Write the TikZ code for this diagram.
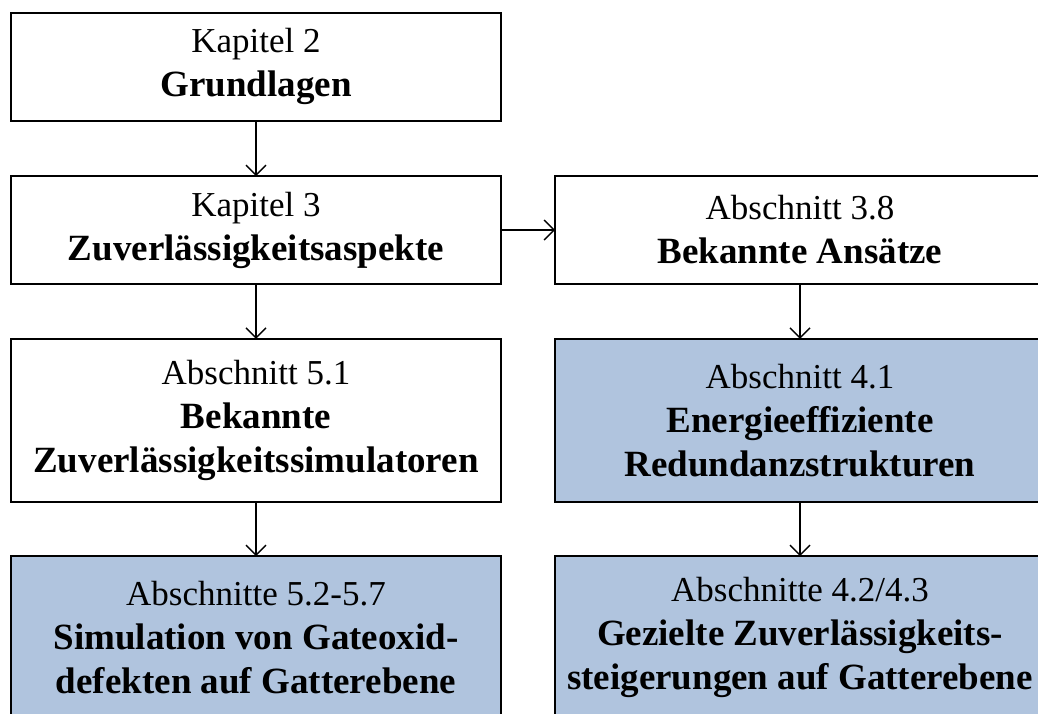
\documentclass[tikz,border=0pt]{standalone}
\usepackage{fontspec}
\setmainfont{Liberation Serif}
\usetikzlibrary{arrows.meta}
\definecolor{boxblue}{RGB}{176,196,222}
\newcommand{\reg}[1]{{\fontsize{35}{44}\selectfont #1}}
\newcommand{\bld}[1]{{\fontsize{37}{44}\selectfont\bfseries #1}}
\tikzset{
  chapbox/.style={draw=black, line width=2pt, rectangle, minimum width=490pt, outer sep=0pt, inner sep=0pt, align=center, font=\fontsize{36}{44}\selectfont},
  lowbox/.style={chapbox, minimum height=108pt},
  highbox/.style={chapbox, minimum height=163pt},
  bluefill/.style={fill=boxblue},
  arr/.style={line width=1.4pt, -{Straight Barb[length=10pt,width=20pt,line width=1.4pt]}}
}
\begin{document}
\begin{tikzpicture}[x=1pt,y=-1pt]
\useasboundingbox (0,0) rectangle (1038,713);
\clip (0,0) rectangle (1038,713);
\node[lowbox] (b1) at (256,66.7) {\reg{Kapitel 2}\\[0pt]\bld{Grundlagen}};
\node[lowbox] (b2) at (256,230) {\reg{Kapitel 3}\\\bld{Zuverlässigkeitsaspekte}};
\node[lowbox] (b3) at (800,230) {\reg{Abschnitt 3.8}\\\bld{Bekannte Ansätze}};
\node[highbox] (b4) at (256,420.3) {\reg{Abschnitt 5.1}\\\bld{Bekannte}\\\bld{Zuverlässigkeitssimulatoren}};
\node[highbox,bluefill] (b5) at (800,420.3) {\reg{Abschnitt 4.1}\\\bld{Energieeffiziente}\\\bld{Redundanzstrukturen}};
\node[highbox,bluefill] (b6) at (256,637.5) {\reg{Abschnitte 5.2-5.7}\\\bld{Simulation von Gateoxid-}\\\bld{defekten auf Gatterebene}};
\node[highbox,bluefill] (b7) at (800,637.5) {\reg{Abschnitte 4.2/4.3}\\\bld{Gezielte Zuverlässigkeits-}\\\bld{steigerungen auf Gatterebene}};
\draw[arr] (b1.south) -- (b2.north);
\draw[arr] (b2.east) -- (b3.west);
\draw[arr] (b2.south) -- (b4.north);
\draw[arr] (b3.south) -- (b5.north);
\draw[arr] (b4.south) -- (b6.north);
\draw[arr] (b5.south) -- (b7.north);
\end{tikzpicture}
\end{document}
